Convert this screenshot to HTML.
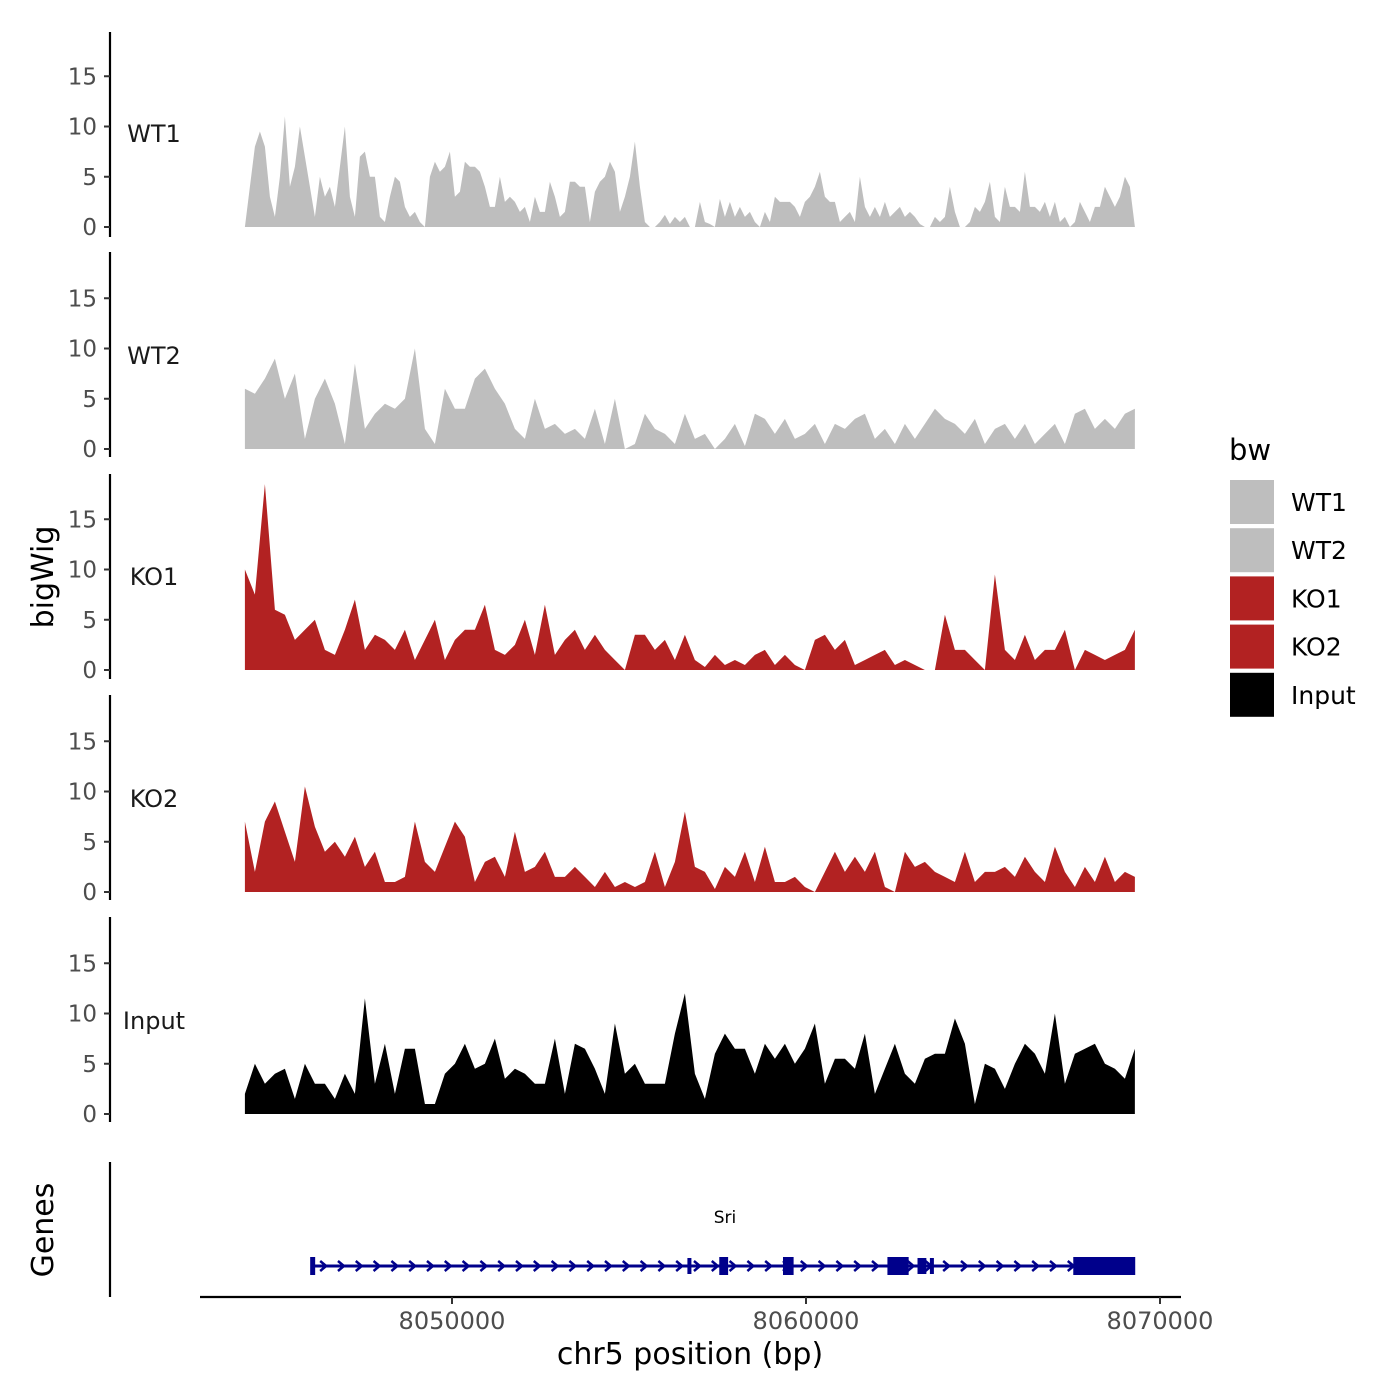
<!DOCTYPE html>
<html><head><meta charset="utf-8"><style>
body{margin:0;background:#fff}
svg{display:block;font-family:"DejaVu Sans","Liberation Sans",sans-serif}
</style></head><body>
<svg id="c" width="1400" height="1400" viewBox="0 0 1400 1400"></svg>
<script>
const trackNames=["WT1","WT2","KO1","KO2","Input"];
const trackColors=["#bebebe","#bebebe","#b22222","#b22222","#000000"];
const wt1=[0,4,8,9.5,8,3,1,5,11,4,6,10,7,4,1,5,3,4,2,6,10,3,1,7,7.5,5,5,1,0.5,3,5,4.5,2,1,1.5,0.5,0,5,6.5,5.5,6,7.5,3,3.5,6.5,6,6,5.5,4,2,2,5,2.5,3,2.5,1.5,2,0.5,3,1.5,1.5,4.5,3,1,1.5,4.5,4.5,4,4,0.5,3.5,4.5,5,6.5,5.5,1.5,3,5,8.5,4,0.5,0,0,0.5,1.2,0.3,1,0.5,1,0,0,2.5,0.5,0.3,0,2.8,1,2.5,1,2,1,1.5,0.5,0,1.5,0.5,3,2.5,2.5,2.5,2,1,2.5,3,4,5.5,3,2.5,2.5,0.5,1,1.5,0.5,5,2,1,2,1,2.5,1,1.5,2,1,1.5,1,0.3,0,0,1,0.5,1,4,1.5,0,0,0.5,2,1.5,2.5,4.5,1,0.5,4,2,2,1.5,5.5,2,2,1.5,2.5,1,2.5,0.5,1,0,0.5,2.5,1.5,0.5,2,2,4,3,2,3,5,4,0];
const wt2=[6,5.5,7,9,5,7.5,1,5,7,4.5,0.5,8.5,2,3.5,4.5,4,5,10,2,0.5,6,4,4,7,8,6,4.5,2,1,5,2,2.5,1.5,2,1,4,0.5,5,0,0.5,3.5,2,1.5,0.5,3.5,1,1.5,0,1,2.5,0.3,3.5,3,1.5,3,1,1.5,2.5,0.5,2.5,2,3,3.5,1,2,0.5,2.5,1,2.5,4,3,2.5,1.5,3,0.5,2,2.5,1,2.5,0.5,1.5,2.5,0.5,3.5,4,2,3,2,3.5,4];
const ko1=[10,7.5,18.5,6,5.5,3,4,5,2,1.5,4,7,2,3.5,3,2,4,1,3,5,1,3,4,4,6.5,2,1.5,2.5,5,1.5,6.5,1.5,3,4,2,3.5,2,1,0,3.5,3.5,2,3,1,3.5,1,0.3,1.5,0.5,1,0.5,1.5,2,0.5,1.5,0.5,0,3,3.5,2,3,0.5,1,1.5,2,0.5,1,0.5,0,0,5.5,2,2,1,0,9.5,2,1,3.5,1,2,2,4,0,2,1.5,1,1.5,2,4];
const ko2=[7,2,7,9,6,3,10.5,6.5,4,5,3.5,5.5,2.5,4,1,1,1.5,7,3,2,4.5,7,5.5,1,3,3.5,1.5,6,2,2.5,4,1.5,1.5,2.5,1.5,0.5,2,0.5,1,0.5,1,4,0.5,3,8,2.5,2,0.3,2.5,1.5,4,1,4.5,1,1,1.5,0.5,0,2,4,2,3.5,2,4,0.5,0,4,2.5,3,2,1.5,1,4,1,2,2,2.5,1.5,3.5,2,1,4.5,2,0.5,2.5,1,3.5,1,2,1.5];
const input=[2,5,3,4,4.5,1.5,5,3,3,1.5,4,2,11.5,3,7,2,6.5,6.5,1,1,4,5,7,4.5,5,7.5,3.5,4.5,4,3,3,7.5,2,7,6.5,4.5,2,9,4,5,3,3,3,8,12,4,1.5,6,8,6.5,6.5,4,7,5.5,7,5,6.5,9,3,5.5,5.5,4.5,8,2,4.5,7,4,3,5.5,6,6,9.5,7,1,5,4.5,2.5,5,7,6,4,10,3,6,6.5,7,5,4.5,3.5,6.5];
const series=[wt1,wt2,ko1,ko2,input];
const yTicks=[0,5,10,15];
const xTicks=[8050000,8060000,8070000];
const startBp=8044150, endBp=8069290;
const exonsBp=[[8056650,8056700,"thin"],[8057550,8057800,"thick"],[8059350,8059650,"thick"],[8062300,8062900,"thick"],[8063150,8063400,"thin"],[8063500,8063600,"thin"],[8067550,8069300,"thick"]];
const geneStart=8046050, geneEnd=8069290;

const NS="http://www.w3.org/2000/svg";
const svg=document.getElementById("c");
function el(t,a,txt){const e=document.createElementNS(NS,t);for(const k in a)e.setAttribute(k,a[k]);if(txt!==undefined)e.textContent=txt;svg.appendChild(e);return e;}
const xS=bp=>452+(bp-8050000)*0.0354;
const baselines=[227,449,670,892,1114];
const axTop=[32,252,474,695,917];
const yS=(i,v)=>baselines[i]-v*10.05;

for(let i=0;i<5;i++){
  const a=el("line",{x1:110,x2:110,y1:axTop[i],y2:axTop[i]+205,stroke:"#000","stroke-width":2.2});
  
  
  yTicks.forEach(t=>{
    const y=yS(i,t);
    const tk=el("line",{x1:104,x2:110,y1:y,y2:y,stroke:"#333","stroke-width":2});
    
    
    const lb=el("text",{x:97,y:y+8,"text-anchor":"end","font-size":23,fill:"#4d4d4d"},String(t));
    
    
  });
  const vals=series[i];const n=vals.length;
  let d="M"+xS(startBp)+","+baselines[i];
  vals.forEach((v,j)=>{const bp=startBp+(endBp-startBp)*j/(n-1);d+=" L"+xS(bp).toFixed(1)+","+yS(i,v).toFixed(1);});
  d+=" L"+xS(endBp)+","+baselines[i]+" Z";
  const p=el("path",{d:d,fill:trackColors[i]});
  
  
  const tl=el("text",{x:154,y:yS(i,0)-85,"text-anchor":"middle","font-size":24,fill:"#1a1a1a"},trackNames[i]);
  
  
}
const ga=el("line",{x1:110,x2:110,y1:1162,y2:1297,stroke:"#000","stroke-width":2.2});


const gl=el("line",{x1:xS(geneStart),x2:xS(geneEnd),y1:1266,y2:1266,stroke:"#00008b","stroke-width":3});


for(let x=xS(geneStart)+12;x<xS(geneEnd)-8;x+=17.8){
  const ar=el("path",{d:`M${x-4},${1261} L${x+2},${1266} L${x-4},${1271}`,fill:"none",stroke:"#00008b","stroke-width":2.5});
  
  
}
const st=el("rect",{x:xS(geneStart)-2,y:1257,width:5,height:18,fill:"#00008b"});


exonsBp.forEach(e=>{
  const h=e[2]==="thick"?18:16;
  const r=el("rect",{x:xS(e[0]),y:1266-h/2,width:Math.max(4,xS(e[1])-xS(e[0])),height:h,fill:"#00008b"});
  
  
});
const gn=el("text",{x:725,y:1223,"text-anchor":"middle","font-size":17,fill:"#000"},"Sri");


const xa=el("line",{x1:200,x2:1181,y1:1297,y2:1297,stroke:"#000","stroke-width":2.2});


xTicks.forEach(t=>{
  const x=xS(t);
  const tk=el("line",{x1:x,x2:x,y1:1297,y2:1304,stroke:"#333","stroke-width":2});
  
  
  const lb=el("text",{x:x,y:1329,"text-anchor":"middle","font-size":24,fill:"#4d4d4d"},String(t));
  
  
});
const xt=el("text",{x:690,y:1364,"text-anchor":"middle","font-size":30,fill:"#000"},"chr5 position (bp)");


const yt=el("text",{x:0,y:0,transform:"translate(53,577) rotate(-90)","text-anchor":"middle","font-size":30,fill:"#000"},"bigWig");


const gt=el("text",{x:0,y:0,transform:"translate(53,1230) rotate(-90)","text-anchor":"middle","font-size":30,fill:"#000"},"Genes");


const lt=el("text",{x:1229,y:460,"font-size":29,fill:"#000"},"bw");


trackNames.forEach((nm,i)=>{
  const y=480+i*48.2;
  const k=el("rect",{x:1230,y:y,width:44,height:44,fill:trackColors[i]});
  
  
  const t=el("text",{x:1291,y:y+31,"font-size":25,fill:"#000"},nm);
  
  
});
</script>
</body></html>
